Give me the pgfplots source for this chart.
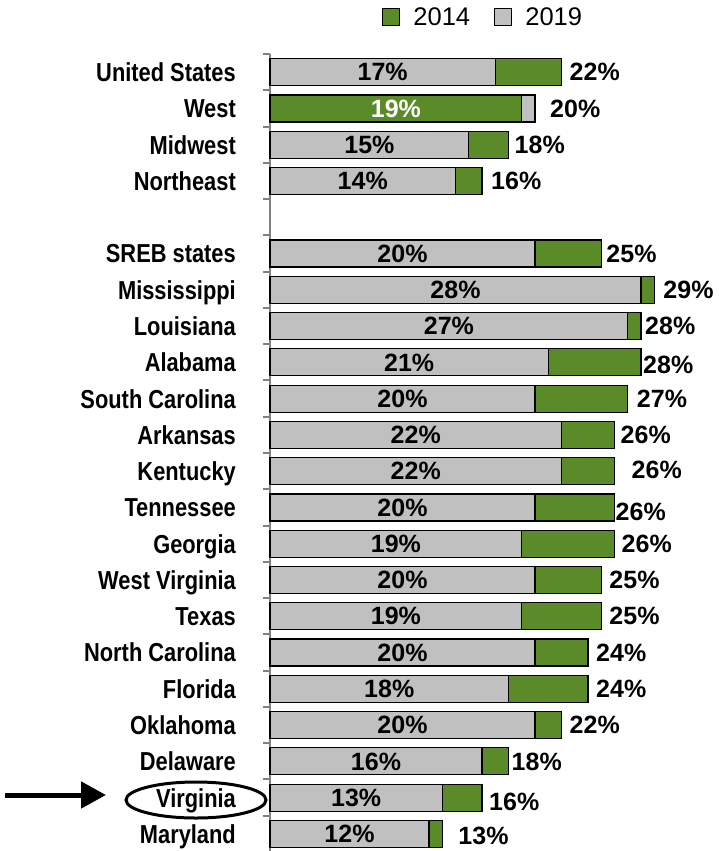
\documentclass[border=0pt]{standalone}
\usepackage{pgfplots}
\pgfplotsset{compat=1.18}
\usepackage{pgfplotstable}
\usepackage{fontspec}
\setmainfont{Liberation Sans}
\newfontfamily\catfont{Liberation Sans}[FakeStretch=0.84]
\usetikzlibrary{arrows.meta}
\definecolor{barGreen}{RGB}{91,138,41}
\definecolor{barGray}{RGB}{192,192,192}
\definecolor{axGray}{RGB}{128,128,128}
\tikzset{pct/.style={font=\fontsize{25}{30}\selectfont\bfseries, text depth=0pt}}

% y = row, a = 2014, b = 2019, dx/dy = nudge of the outer label
\pgfplotstableread{
y  a  b  dx dy
0  22 17 8  0
1  19 20 15 0
2  18 15 6  0
3  16 14 9  0
5  25 20 5  0
6  29 28 9  0
7  28 27 4  0
8  28 21 2  -2
9  27 20 9  0
10 26 22 6  0
11 26 22 17 1
12 26 20 1  -4
13 26 19 7  0
14 25 20 8  0
15 25 19 8  0
16 24 20 8  0
17 24 18 8  0
18 22 20 8  0
19 18 16 3  0
20 16 13 7  -4
21 13 12 16 -2
}\rates

\begin{document}
\begin{tikzpicture}
\path[use as bounding box] (0pt,0pt) rectangle (719pt,-851pt);
\begin{axis}[
  at={(270pt,-54pt)}, anchor=north west,
  scale only axis, width=397.5pt, height=798pt,
  xmin=0, xmax=30, ymin=-0.5, ymax=21.5, y dir=reverse,
  axis x line=none, axis y line=left,
  axis line style={axGray, line width=2pt, -},
  ytick={0,1,2,3,5,6,...,21},
  yticklabels={United States, West, Midwest, Northeast, SREB states, Mississippi,
    Louisiana, Alabama, South Carolina, Arkansas, Kentucky, Tennessee, Georgia,
    West Virginia, Texas, North Carolina, Florida, Oklahoma, Delaware, Virginia, Maryland},
  minor ytick={-0.5,0.5,...,21.5},
  major tick length=0pt, minor tick length=7pt, tick align=outside,
  tick style={axGray, line width=2pt},
  yticklabel style={font=\catfont\fontsize{26}{30}\selectfont\bfseries,
    anchor=east, inner sep=0pt, text depth=0pt, xshift=-34pt},
  clip=false,
  /pgf/number format/assume math mode=true,
  legend columns=2,
  legend style={at={(axis description cs:0.2818,1.0464)}, anchor=west,
    draw=none, fill=none, inner sep=0pt,
    font=\fontsize{25.5}{30}\selectfont,
    /tikz/every odd column/.append style={column sep=11pt},
    /tikz/every even column/.append style={column sep=22pt}},
  legend image code/.code={\draw[#1, line width=1.2pt] (0pt,-8.5pt) rectangle (17pt,8.5pt);},
  bigbar/.style={xbar, bar width=27pt, bar shift=0pt, draw=black, line width=1.2pt},
]
\addplot[bigbar, fill=barGreen] table[x=a, y=y]{\rates};
\addlegendentry{2014}
\addplot[bigbar, fill=barGray] table[x=b, y=y]{\rates};
\addlegendentry{2019}
% where 2014 is the smaller share, its bar goes on top
\addplot[bigbar, fill=barGreen, forget plot,
  restrict expr to domain={\thisrow{a}-\thisrow{b}}{-100:-0.001}]
  table[x=a, y=y]{\rates};

% labels inside the front bar
\addplot[draw=none, forget plot,
  restrict expr to domain={\thisrow{a}-\thisrow{b}}{0:100},
  point meta={min(\thisrow{a},\thisrow{b})},
  nodes near coords={\pgfmathprintnumber{\pgfplotspointmeta}\%},
  nodes near coords style={anchor=center, pct, text=black}]
  table[x expr={min(\thisrow{a},\thisrow{b})/2}, y=y]{\rates};
\addplot[draw=none, forget plot,
  restrict expr to domain={\thisrow{a}-\thisrow{b}}{-100:-0.001},
  point meta={min(\thisrow{a},\thisrow{b})},
  nodes near coords={\pgfmathprintnumber{\pgfplotspointmeta}\%},
  nodes near coords style={anchor=center, pct, text=white}]
  table[x expr={min(\thisrow{a},\thisrow{b})/2}, y=y]{\rates};

% labels past the end of the longer bar
\addplot[draw=none, forget plot,
  point meta={max(\thisrow{a},\thisrow{b})},
  visualization depends on={\thisrow{dx} \as \dx},
  visualization depends on={\thisrow{dy} \as \dy},
  nodes near coords={\pgfmathprintnumber{\pgfplotspointmeta}\%},
  nodes near coords style={anchor=west, inner sep=0pt, xshift=\dx pt, yshift=\dy pt, pct, text=black}]
  table[x expr={max(\thisrow{a},\thisrow{b})}, y=y]{\rates};
\end{axis}
\draw[line width=3pt] (196pt,-800pt) ellipse [x radius=70pt, y radius=18pt];
\draw[line width=5pt, -{Triangle[length=25pt,width=26pt]}] (5pt,-795pt) -- (106pt,-795pt);
\end{tikzpicture}
\end{document}
